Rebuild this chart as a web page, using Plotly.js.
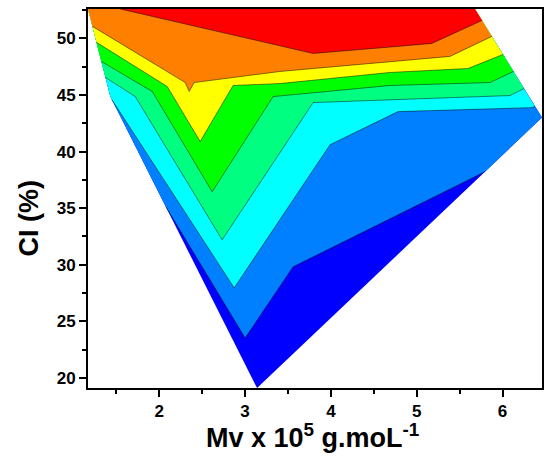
<!DOCTYPE html>
<html><head><meta charset="utf-8">
<script src="https://cdn.plot.ly/plotly-3.0.1.min.js"></script>
<style>html,body{margin:0;padding:0;background:#fff}</style>
</head><body><div id="chart" style="width:558px;height:456px"></div>
<script>
// Data domain (Mv x 10^5 g/mol vs CI %)
// left side of the domain, top -> bottom
const leftX = [1.17, 1.43, 3.14];
const leftY = [52.6, 44.86, 19.1];
// right side of the domain, bottom -> top
const rightX = [3.14, 6.46, 5.679];
const rightY = [19.1, 43.0, 52.6];

// contour lines (lowest level first), each from left edge to right edge
const c7x = [2.077, 3.001, 3.560, 5.796];
const c7y = [35.12, 23.52, 29.81, 38.22];
const c6x = [1.447, 2.873, 3.991, 4.782, 6.33, 6.378];
const c6y = [44.60, 27.95, 40.61, 43.53, 43.88, 43.98];
const c5x = [1.373, 1.721, 2.733, 3.793, 6.086, 6.251];
const c5y = [46.55, 44.86, 32.20, 44.33, 44.95, 45.57];
const c4x = [1.326, 1.919, 2.617, 3.327, 4.689, 5.853, 6.128];
const c4y = [47.96, 45.31, 36.45, 44.86, 45.84, 46.10, 47.08];
const c3x = [1.269, 2.093, 2.477, 2.861, 3.409, 4.689, 5.597, 6.006];
const c3y = [49.65, 45.75, 40.88, 45.84, 46.01, 46.99, 47.34, 48.58];
const c2x = [1.222, 2.303, 2.349, 2.407, 3.409, 4.689, 5.388, 5.876];
const c2y = [51.06, 46.10, 45.31, 46.10, 47.08, 47.96, 48.41, 50.18];
const c1x = [1.546, 3.793, 4.771, 5.178, 5.761];
const c1y = [52.6, 48.67, 49.29, 49.56, 51.59];

const xTicks = [2, 3, 4, 5, 6];
const yTicks = [20, 25, 30, 35, 40, 45, 50];

// styles
const bandColors = ['#0000FF', '#0080FF', '#00FFFF', '#00FF80', '#00FF00', '#FFFF00', '#FF8000', '#FF0000'];

const lines = [[c7x, c7y], [c6x, c6y], [c5x, c5y], [c4x, c4y], [c3x, c3y], [c2x, c2y], [c1x, c1y]];

function regionAbove(cx, cy) {
  const px = cx.slice(), py = cy.slice();
  const endY = cy[cy.length - 1], startY = cy[0];
  for (let i = 0; i < rightX.length; i++) if (rightY[i] > endY + 1e-6) { px.push(rightX[i]); py.push(rightY[i]); }
  for (let i = 0; i < leftX.length; i++) if (leftY[i] > startY + 1e-6) { px.push(leftX[i]); py.push(leftY[i]); }
  px.push(cx[0]); py.push(cy[0]);
  return { x: px, y: py };
}

const traces = [];
// full domain = lowest band
const domX = leftX.concat(rightX.slice(1)).concat([leftX[0]]);
const domY = leftY.concat(rightY.slice(1)).concat([leftY[0]]);
traces.push({ x: domX, y: domY, mode: 'lines', fill: 'toself', fillcolor: bandColors[0], line: { width: 0, color: bandColors[0] }, hoverinfo: 'skip', showlegend: false });
lines.forEach((l, i) => {
  const r = regionAbove(l[0], l[1]);
  traces.push({ x: r.x, y: r.y, mode: 'lines', fill: 'toself', fillcolor: bandColors[i + 1], line: { width: 0, color: bandColors[i + 1] }, hoverinfo: 'skip', showlegend: false });
});
lines.forEach(l => {
  traces.push({ x: l[0], y: l[1], mode: 'lines', line: { width: 0.8, color: 'rgba(0,0,0,0.6)' }, hoverinfo: 'skip', showlegend: false });
});

const font = { family: 'Liberation Sans, Arial, sans-serif', color: '#000' };
const axisCommon = {
  showgrid: false, zeroline: false, showline: true, linewidth: 2, linecolor: '#000', mirror: true,
  ticks: 'outside', ticklen: 7, tickwidth: 2, tickcolor: '#000',
  tickfont: Object.assign({ size: 17, weight: 'bold' }, font),
};
const layout = {
  width: 558, height: 456,
  margin: { l: 88, r: 16, t: 9, b: 68 },
  paper_bgcolor: '#fff', plot_bgcolor: '#fff',
  showlegend: false,
  xaxis: Object.assign({}, axisCommon, {
    range: [1.17, 6.46], tickmode: 'array', tickvals: xTicks, ticktext: xTicks.map(String),
    minor: { dtick: 0.5, tick0: 0, ticks: 'outside', ticklen: 4, tickwidth: 2, tickcolor: '#000' }
  }),
  yaxis: Object.assign({}, axisCommon, {
    range: [19.1, 52.6], tickmode: 'array', tickvals: yTicks, ticktext: yTicks.map(String),
    minor: { dtick: 2.5, tick0: 0, ticks: 'outside', ticklen: 4, tickwidth: 2, tickcolor: '#000' }
  }),
  annotations: [
    { text: 'Mv x 10<sup>5</sup> g.moL<sup>-1</sup>', xref: 'paper', yref: 'paper', x: 0.495, y: -0.127, xanchor: 'center', yanchor: 'middle', showarrow: false, font: Object.assign({ size: 27, weight: 'bold' }, font) },
    { text: 'CI (%)', xref: 'paper', yref: 'paper', x: -0.13, y: 0.45, xanchor: 'center', yanchor: 'middle', textangle: -90, showarrow: false, font: Object.assign({ size: 27, weight: 'bold' }, font) }
  ]
};
Plotly.newPlot('chart', traces, layout, { staticPlot: true });
</script>
</body></html>
